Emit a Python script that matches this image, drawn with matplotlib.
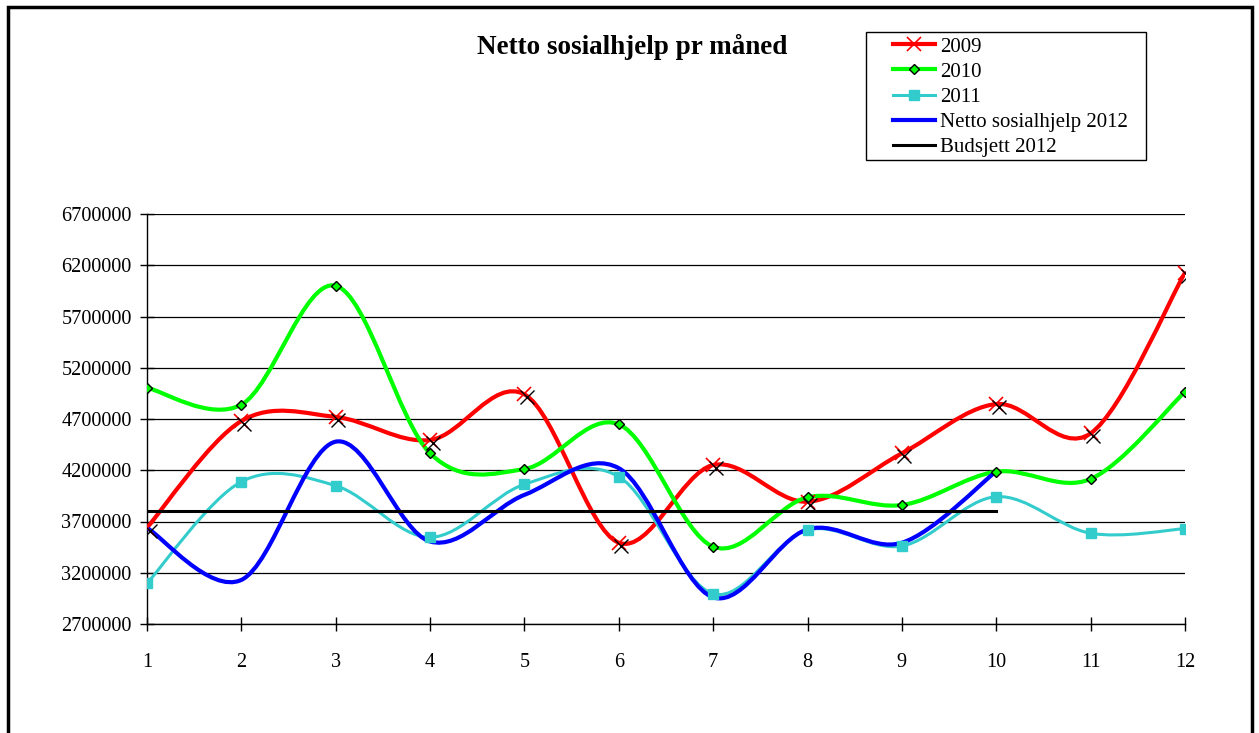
import numpy as np
import matplotlib.pyplot as plt
from matplotlib.path import Path
from matplotlib.patches import PathPatch, Rectangle
from matplotlib.lines import Line2D
from matplotlib.transforms import offset_copy

plt.rcParams['font.family'] = ['Liberation Serif', 'DejaVu Serif']

# data
maaneder = [1, 2, 3, 4, 5, 6, 7, 8, 9, 10, 11, 12]
y2009 = [3640000, 4680000, 4720000, 4495000, 4940000, 3493000,
         4251000, 3893000, 4365000, 4846000, 4560000, 6127000]
y2010 = [5005000, 4840000, 6000000, 4365000, 4212000, 4648000,
         3454000, 3936000, 3861000, 4186000, 4115000, 4966000]
y2011 = [3097000, 4088000, 4049000, 3546000, 4063000, 4137000,
         2995000, 3617000, 3461000, 3942000, 3585000, 3630000]
y2012 = [3637000, 3130000, 4479000, 3505000, 3960000, 4220000,
         2960000, 3624000, 3493000, 4190000]
budsjett = [3800000, 3800000, 3800000, 3800000, 3800000,
            3800000, 3800000, 3800000, 3800000, 3800000]
y_ticks = [2700000, 3200000, 3700000, 4200000, 4700000,
           5200000, 5700000, 6200000, 6700000]


def smooth_path(xs, ys):
    # Excel-like smoothed line as cubic bezier segments
    pts = np.column_stack([xs, ys]).astype(float)
    n = len(pts)
    verts = [pts[0]]
    codes = [Path.MOVETO]
    for i in range(n - 1):
        p0 = pts[i - 1] if i > 0 else pts[i]
        p3 = pts[i + 2] if i + 2 < n else pts[i + 1]
        c1 = pts[i] + (pts[i + 1] - p0) / 6
        c2 = pts[i + 1] - (p3 - pts[i]) / 6
        verts += [c1, c2, pts[i + 1]]
        codes += [Path.CURVE4] * 3
    return Path(verts, codes)


W, H = 1259, 733
fig = plt.figure(figsize=(W / 100, H / 100), dpi=100)
ax = fig.add_axes([147 / W, 1 - 624 / H, (1185 - 147) / W, (624 - 214) / H])

# gridlines
for yt in y_ticks:
    ax.axhline(yt, color='black', lw=0.9, zorder=1)

# smoothed lines
ax.add_patch(PathPatch(smooth_path(maaneder, y2009), fill=False, ec='#FF0000', lw=3, zorder=3))
ax.add_patch(PathPatch(smooth_path(maaneder, y2010), fill=False, ec='#00FF00', lw=3, zorder=3))
ax.add_patch(PathPatch(smooth_path(maaneder, y2011), fill=False, ec='#33CCCC', lw=2.2, zorder=3))
ax.add_patch(PathPatch(smooth_path(maaneder[:10], y2012), fill=False, ec='#0000FF', lw=3, zorder=4))
ax.plot(maaneder[:10], budsjett, color='black', lw=2.2, zorder=6)

# markers
ax.plot(maaneder, y2009, ls='none', marker='x', ms=10, mec='#FF0000', mew=1.2, zorder=5)
ax.plot(maaneder, y2009, ls='none', marker='x', ms=10, mec='black', mew=1.0, zorder=5,
        transform=offset_copy(ax.transData, fig=fig, x=2.5, y=-3, units='dots'))
ax.plot(maaneder, y2010, ls='none', marker='D', ms=5.5, mfc='#00FF00', mec='black', mew=1.0, zorder=5)
ax.plot(maaneder, y2011, ls='none', marker='s', ms=6.5, mfc='#33CCCC', mec='#33CCCC', zorder=5)

ax.set_xlim(1, 12)
ax.set_ylim(2700000, 6700000)
ax.set_xticks(maaneder)
ax.set_xticklabels([str(m) for m in maaneder])
ax.set_yticks(y_ticks)
ax.set_yticklabels([str(v) for v in y_ticks])
ax.tick_params(axis='both', direction='inout', length=10, width=1, labelsize=14.6, colors='black')
ax.tick_params(axis='x', pad=16)
ax.tick_params(axis='y', pad=6)
ax.spines['top'].set_visible(False)
ax.spines['right'].set_visible(False)
ax.spines['left'].set_linewidth(1)
ax.spines['bottom'].set_linewidth(1)

fig.text(632 / W, 1 - 47 / H, 'Netto sosialhjelp pr måned', ha='center', va='center',
         fontsize=19.5, fontweight='bold')

# legend
handles = [
    Line2D([], [], color='#FF0000', lw=3, marker='x', ms=10, mew=1.2),
    Line2D([], [], color='#00FF00', lw=3, marker='D', ms=5, mfc='#00FF00', mec='black'),
    Line2D([], [], color='#33CCCC', lw=2.2, marker='s', ms=7),
    Line2D([], [], color='#0000FF', lw=3),
    Line2D([], [], color='black', lw=2.2),
]
labels = ['2009', '2010', '2011', 'Netto sosialhjelp 2012', 'Budsjett 2012']
fig.legend(handles, labels, loc='upper left', bbox_to_anchor=(893 / W, 1 - 37 / H),
           frameon=False, fontsize=15, handlelength=2.0, handletextpad=0.25,
           labelspacing=0.27, borderpad=0, borderaxespad=0)
fig.add_artist(Rectangle((866 / W, 1 - 160 / H), (1146 - 866) / W, 128 / H,
                         transform=fig.transFigure, fill=False, ec='black', lw=1))

# outer frame
fig.add_artist(Rectangle((8 / W, -0.05), (1252 - 8) / W, 1.05 - 7 / H,
                         transform=fig.transFigure, fill=False, ec='black', lw=2.5,
                         clip_on=False))

fig.savefig('out.png', dpi=100)
